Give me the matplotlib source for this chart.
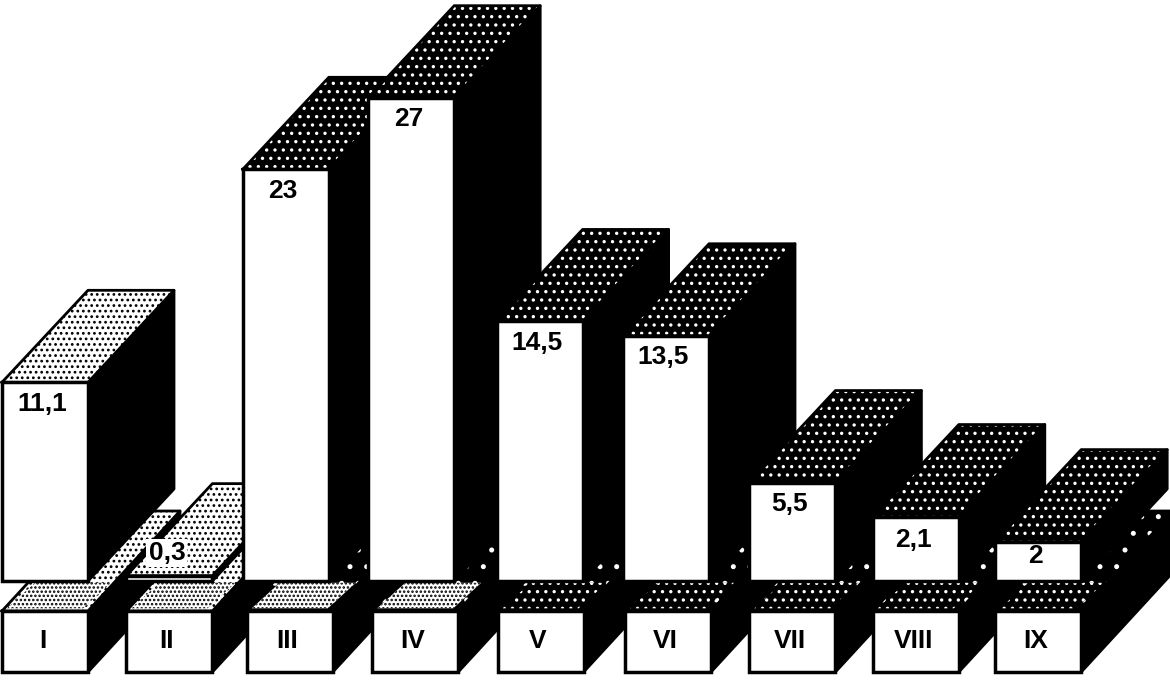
import matplotlib
matplotlib.use('Agg')
import matplotlib.pyplot as plt

# bar heights, the printed labels differ a little for VIII
categories = ['I', 'II', 'III', 'IV', 'V', 'VI', 'VII', 'VIII', 'IX']
values = [11.1, 0.3, 23, 27, 14.5, 13.7, 5.5, 3.6, 2.2]
value_labels = ['11,1', '0,3', '23', '27', '14,5', '13,5', '5,5', '2,1', '2']

# px per unit on each axis, everything below is in data units
PX_X = 124.4
PX_Y = 17.9
WIDTH = 86 / PX_X
DX, DY = 86 / PX_X, 92 / PX_Y
PLINTH_DX, PLINTH_DY = 92 / PX_X, 100 / PX_Y
PLINTH_TOP, PLINTH_BOTTOM = -30 / PX_Y, -91 / PX_Y
STRIP_DX = 28 / PX_X

# the bars are not evenly spaced in the scan, small nudges in px
BAR_NUDGE = [0, 0, -8, -7, -3, -1, 1, 0, -2]
PLINTH_NUDGE = [0, 0, -4, -3, -2, 1, 1, 0, -2]

plt.rcParams['hatch.linewidth'] = 1.2
plt.rcParams['font.family'] = ['Liberation Sans', 'DejaVu Sans']

fig = plt.figure(figsize=(11.7, 6.82), dpi=100)
ax = fig.add_axes([0, 0, 1, 1])
ax.set_xlim(-2 / PX_X, 1168 / PX_X)
ax.set_ylim(-101 / PX_Y, 581 / PX_Y)
ax.axis('off')


def poly(xs, ys, z, face='black', hatch=None, hatch_color='white', edge=True):
    ax.fill(xs, ys, facecolor=face, edgecolor=hatch_color if hatch else 'none',
            hatch=hatch, linewidth=0, zorder=z)
    if edge:
        ax.plot(list(xs) + [xs[0]], list(ys) + [ys[0]], color='black',
                linewidth=2, zorder=z + 0.1, solid_joinstyle='round')


z = 1
for i, (cat, val, lab) in enumerate(zip(categories, values, value_labels)):
    light = i < 2

    # plinth: side, top, speckled front strip, front
    left = i + PLINTH_NUDGE[i] / PX_X
    right = left + WIDTH
    poly([right, right + PLINTH_DX, right + PLINTH_DX, right],
         [PLINTH_TOP, PLINTH_TOP + PLINTH_DY, PLINTH_BOTTOM + PLINTH_DY, PLINTH_BOTTOM], z)
    poly([left, right, right + PLINTH_DX, left + PLINTH_DX],
         [PLINTH_TOP, PLINTH_TOP, PLINTH_TOP + PLINTH_DY, PLINTH_TOP + PLINTH_DY], z + 1,
         face='white' if light else 'black', hatch='...' if light else '.',
         hatch_color='black' if light else 'white')
    strip_light = i < 4
    poly([left + 0.04, right - 0.04, right + STRIP_DX - 0.04, left + STRIP_DX + 0.04],
         [PLINTH_TOP + 0.15, PLINTH_TOP + 0.15, -0.1, -0.1], z + 2,
         face='white' if strip_light else 'black', hatch='....' if strip_light else '..',
         hatch_color='black' if strip_light else 'white', edge=False)
    ax.bar(left, PLINTH_BOTTOM - PLINTH_TOP, bottom=PLINTH_TOP, width=WIDTH, align='edge',
           facecolor='white', edgecolor='black', linewidth=2.5, zorder=z + 3)
    ax.text(left + WIDTH / 2 - 0.02, (PLINTH_TOP + PLINTH_BOTTOM) / 2, cat, ha='center',
            va='center', fontsize=19, fontweight='bold', zorder=z + 4)

    # bar: side, top, front
    left = i + BAR_NUDGE[i] / PX_X
    right = left + WIDTH
    poly([right, right + DX, right + DX, right], [0, DY, val + DY, val], z + 5)
    poly([left, right, right + DX, left + DX], [val, val, val + DY, val + DY], z + 6,
         face='white' if light else 'black', hatch='...' if light else '..',
         hatch_color='black' if light else 'white')
    ax.bar(left, val, width=WIDTH, align='edge', facecolor='white', edgecolor='black',
           linewidth=2.5, zorder=z + 7)

    # value label
    if val < 1:
        text_y = val + 1.25
    elif val < 4:
        text_y = val * 0.63
    else:
        text_y = val - 1.2
    ax.text(left + WIDTH / 2 - 0.02, text_y, lab, ha='center', va='center', fontsize=19,
            fontweight='bold', zorder=z + 9,
            bbox=dict(facecolor='white', edgecolor='none', pad=1.5) if val < 1 else None)
    z += 10

fig.savefig('out.png', dpi=100)
